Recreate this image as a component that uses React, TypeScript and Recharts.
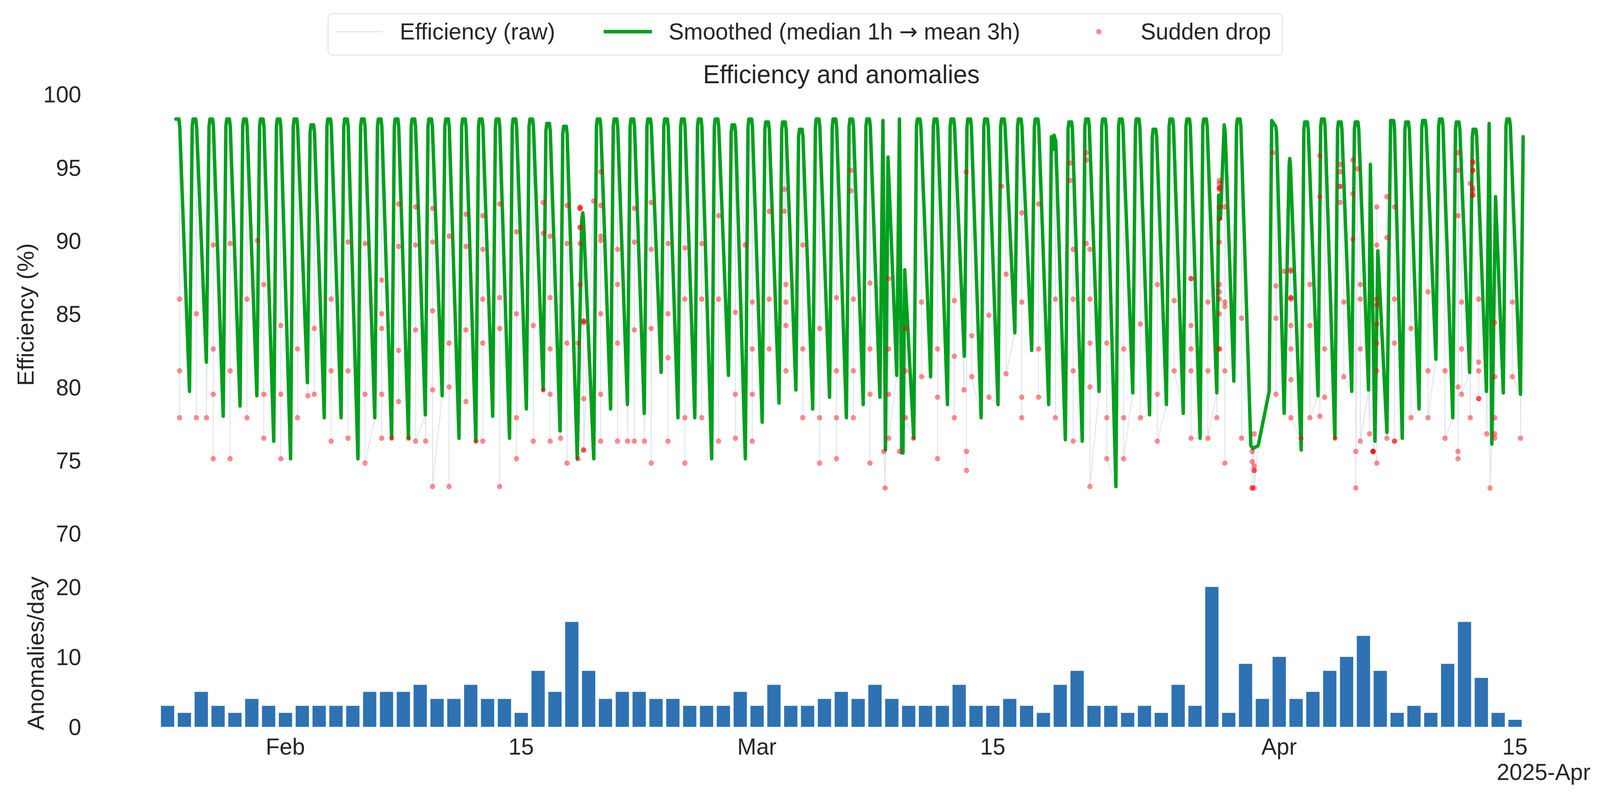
import { Bar, BarChart, ComposedChart, Line, Scatter, XAxis, YAxis } from "recharts"

const FONT = '"Liberation Sans", Arial, Helvetica, sans-serif'
const INK = "#262626"
const W = 4214
const H = 2037

const RAW_COLOR = "#dfe4f2"
const GREEN = "#00a01e"
const DROP_RED = "#ff0000"
const BAR_BLUE = "#2e72b4"

// x = days after 2025-01-25 00:00 (bar k = that calendar day)
const X_DOMAIN: [number, number] = [-1.375, 81.58]
const xTicks = [7, 21, 35, 49, 66, 80]
const xTickLabels = ["Feb", "15", "Mar", "15", "Apr", "15"]
const effTicks = [70, 75, 80, 85, 90, 95, 100]
const countTicks = [0, 10, 20]

// anomalies per day, Jan 25 .. Apr 15
const anomaliesPerDay = [
  3, 2, 5, 3, 2, 4, 3, 2, 3, 3,
  3, 3, 5, 5, 5, 6, 4, 4, 6, 4,
  4, 2, 8, 5, 15, 8, 4, 5, 5, 4,
  4, 3, 3, 3, 5, 3, 6, 3, 3, 4,
  5, 4, 6, 4, 3, 3, 3, 6, 3, 3,
  4, 3, 2, 6, 8, 3, 3, 2, 3, 2,
  6, 3, 20, 2, 9, 4, 10, 4, 5, 8,
  10, 13, 8, 2, 3, 2, 9, 15, 7, 2,
  1,
]

// smoothed curve: daily trough (early morning) and plateau value
const greenMin = [
  0,
  79.7, 81.7, 78.0, 78.7, 79.4, 76.3, 75.1, 80.3, 77.9, 77.9,
  75.1, 77.9, 76.5, 76.5, 78.1, 79.4, 76.5, 76.3, 78.0, 76.5,
  78.5, 79.8, 77.0, 75.1, 75.1, 78.5, 78.8, 78.2, 81.0, 77.9,
  77.9, 75.1, 80.8, 75.1, 77.6, 78.9, 79.8, 78.5, 79.3, 77.9,
  78.8, 79.3, 80.8, 76.5, 80.7, 78.8, 82.1, 77.9, 78.8, 83.7,
  82.5, 78.8, 76.4, 76.3, 79.7, 73.2, 79.6, 78.1, 78.8, 78.2,
  76.5, 79.6, 80.4, 76.0, 79.7, 78.2, 75.7, 79.4, 76.5, 79.7,
  79.8, 76.9, 76.5, 78.5, 81.9, 77.9, 81.0, 79.7, 79.6, 79.5,
]
const greenPeak = [
  98.3,
  98.3, 98.3, 98.3, 98.3, 98.3, 98.3, 98.3, 97.9, 98.3, 98.3,
  98.3, 98.3, 98.3, 98.3, 98.3, 98.3, 98.3, 98.3, 98.3, 98.3,
  98.3, 98.0, 97.8, 91.9, 98.3, 98.3, 98.3, 98.3, 98.3, 98.3,
  98.3, 98.3, 97.9, 98.3, 98.1, 98.1, 97.6, 98.3, 98.3, 98.3,
  98.3, 98.3, 98.3, 98.3, 98.3, 98.3, 98.3, 98.3, 98.3, 98.3,
  98.3, 97.1, 98.1, 98.3, 98.3, 98.3, 98.3, 97.6, 98.3, 98.3,
  98.3, 97.9, 98.3, 98.2, 98.2, 95.6, 98.1, 98.3, 98.1, 98.1,
  95.2, 98.2, 98.1, 98.2, 98.3, 98.1, 97.6, 98.0, 98.3, 97.1,
]
// days whose curve does not follow the usual trough -> plateau shape
const greenOverrides: Record<number, [number, number][]> = {
  0: [[0.5, 98.3], [0.68, 98.3], [0.73, 97.8]],
  24: [[24.33, 75.1], [24.6, 91.4], [24.66, 91.9], [24.7, 91.4]],
  42: [[42.3, 79.3], [42.48, 98.2], [42.63, 75.7], [42.78, 95.7]],
  43: [[43.3, 80.8], [43.46, 98.3], [43.6, 75.5], [43.67, 75.5], [43.77, 88.0]],
  52: [[52.32, 78.8], [52.48, 97.1], [52.56, 96.2], [52.64, 97.2], [52.74, 96.8]],
  62: [[62.3, 79.6], [62.41, 93.1], [62.52, 91.5], [62.74, 97.9], [62.8, 97.4]],
  64: [[64.32, 76.0], [64.45, 75.8], [64.76, 76.0], [65.41, 79.7]],
  65: [[65.56, 98.2], [65.8, 97.8], [65.85, 97.3]],
  66: [[66.3, 78.2], [66.6, 95.2], [66.63, 95.6], [66.67, 95.2]],
  71: [[71.31, 79.8], [71.42, 95.2], [71.69, 76.3], [71.86, 89.3]],
  72: [[72.4, 76.9], [72.62, 98.2], [72.8, 98.2], [72.85, 97.7]],
  78: [[78.31, 79.7], [78.47, 98.0], [78.63, 76.1], [78.85, 93.0]],
  80: [[80.33, 79.5], [80.49, 97.1]],
}

// sudden drops: [time in days, efficiency values at that time]
const drops: [number, number[]][] = [
  [0.72, [86.0, 81.1, 77.9]],
  [1.72, [85.0, 77.9]],
  [2.32, [77.9]], [2.72, [89.7, 82.6, 79.5, 75.1]],
  [3.72, [89.8, 81.1, 75.1]],
  [4.72, [86.0, 77.9]],
  [5.34, [90.0]], [5.72, [87.0, 79.5, 76.5]],
  [6.73, [84.2, 79.5, 75.1]],
  [7.72, [82.6, 77.9]],
  [8.34, [79.4]], [8.72, [84.0, 79.5]],
  [9.72, [86.0, 81.1, 76.3]],
  [10.72, [89.9, 81.1, 76.5]],
  [11.73, [89.8, 79.5, 74.8]],
  [12.72, [87.3, 85.0, 84.0, 79.5, 76.5]],
  [13.31, [76.5]], [13.72, [92.5, 89.6, 82.5, 79.0]],
  [14.31, [76.5]], [14.73, [92.3, 89.7, 83.9, 76.3]],
  [15.33, [76.3]], [15.74, [92.2, 89.9, 85.2, 79.8, 73.2]],
  [16.72, [90.3, 83.0, 80.0, 73.2]],
  [17.72, [91.8, 89.6, 83.9, 79.0]],
  [18.32, [76.3]], [18.72, [91.7, 89.4, 86.0, 83.0, 76.3]],
  [19.72, [92.5, 86.1, 84.0, 73.2]],
  [20.72, [90.6, 85.0, 77.9, 75.1]],
  [21.72, [84.2, 76.3]],
  [22.31, [92.6, 90.5, 79.8]], [22.72, [90.3, 86.1, 82.6, 79.5, 76.3]],
  [23.34, [76.5]], [23.72, [92.4, 89.8, 83.0, 74.8]],
  [24.38, [83.0, 75.1]],
  [24.5, [92.3, 92.2, 92.2, 90.9, 90.9, 89.8, 87.0]],
  [24.71, [84.5, 84.5, 84.4, 79.2, 75.7, 75.7]],
  [25.3, [92.7]], [25.72, [94.7, 92.4, 90.3, 90.0, 85.0, 79.5, 76.3]],
  [26.72, [89.4, 87.0, 83.0, 76.3]],
  [27.32, [76.3]], [27.72, [92.2, 89.9, 83.9, 76.3]],
  [28.32, [76.3]], [28.72, [92.6, 89.4, 84.0, 74.8]],
  [29.72, [89.8, 85.0, 82.0, 76.3]],
  [30.72, [89.5, 86.0, 77.9, 74.8]],
  [31.72, [89.8, 86.0, 77.9]],
  [32.72, [91.7, 86.0, 76.3]],
  [33.72, [85.1, 79.5, 76.5]],
  [34.3, [89.7]], [34.72, [85.8, 82.6, 79.5, 76.3]],
  [35.72, [92.0, 86.0, 82.6]],
  [36.62, [93.5, 92.0]], [36.72, [87.0, 85.8, 84.2, 81.1]],
  [37.72, [89.7, 82.6, 77.9]],
  [38.72, [84.0, 77.9, 74.8]],
  [39.72, [86.1, 81.1, 77.9, 75.1]],
  [40.58, [94.8, 93.4]], [40.72, [86.0, 81.1, 77.9]],
  [41.71, [87.1, 82.6, 79.5, 74.8]],
  [42.53, [75.6]], [42.61, [73.1]], [42.82, [87.4, 82.6, 79.5, 76.5]],
  [43.46, [75.6]], [43.82, [84.0, 81.1, 77.9]],
  [44.29, [76.5]], [44.77, [85.8, 80.7]],
  [45.72, [82.6, 79.3, 75.1]],
  [46.72, [85.9, 82.1, 77.9]],
  [47.29, [79.8]], [47.42, [94.7]], [47.44, [75.6, 74.3]], [47.75, [83.5, 80.7]],
  [48.77, [84.9, 79.3]],
  [49.53, [93.7]], [49.79, [87.7, 80.9]],
  [50.72, [91.9, 85.8, 79.3, 77.9]],
  [51.72, [92.5, 82.6, 79.3]],
  [52.72, [86.0, 77.9]],
  [53.6, [95.3, 94.1]], [53.77, [89.4, 86.0, 81.1, 76.3]],
  [54.55, [96.0, 95.5, 89.8]], [54.77, [89.4, 86.0, 83.0, 80.0, 73.2]],
  [55.77, [83.0, 77.9, 75.1]],
  [56.77, [82.6, 77.9, 75.1]],
  [57.77, [84.3, 77.9]],
  [58.77, [87.0, 79.5, 76.3]],
  [59.77, [85.9, 81.1]],
  [60.77, [87.4, 87.4, 84.2, 82.6, 81.1, 76.5]],
  [61.77, [85.8, 81.1, 76.5]],
  [62.3, [77.9]],
  [62.45, [94.1, 93.9, 93.6, 93.6, 93.5, 92.3, 91.5, 89.9, 87.0, 86.5, 86.0, 85.0, 82.6, 82.6]],
  [62.78, [92.3, 85.8, 85.5, 81.1, 74.8]],
  [63.77, [84.7, 76.5]],
  [64.4, [75.6, 74.9, 73.1, 73.1]], [64.52, [76.8, 74.6, 74.3, 74.3, 73.1]],
  [65.63, [96.0]], [65.81, [86.9, 84.7, 79.5]],
  [66.3, [87.9]], [66.7, [88.0, 87.9, 86.1, 86.1, 86.0, 84.2, 82.6, 80.5, 77.9]],
  [67.3, [76.5]], [67.83, [87.0, 84.2, 77.9]],
  [68.42, [95.8, 93.0, 78.0]], [68.7, [82.6, 79.3]],
  [69.33, [76.5]], [69.62, [95.2, 94.7, 93.7, 93.7, 92.6]], [69.84, [85.8, 80.7]],
  [70.38, [95.5, 93.2, 90.1]], [70.55, [75.6, 73.1]], [70.66, [94.9]], [70.82, [87.0, 86.0, 82.6, 76.3]],
  [71.37, [76.8]], [71.58, [75.6, 75.6, 75.6, 75.6]], [71.8, [92.3, 89.7, 86.0, 85.6, 84.3, 83.0, 81.1, 74.8]],
  [72.4, [93.0, 90.2, 76.5]], [72.85, [92.3, 86.0, 83.0, 76.3, 76.3]],
  [73.83, [84.0, 77.9]],
  [74.84, [86.5, 81.1, 77.9]],
  [75.85, [81.1, 76.5]],
  [76.62, [96.0, 94.8, 91.7, 80.0, 75.6, 75.1]], [76.83, [85.8, 82.6, 79.5]],
  [77.35, [93.9, 77.9]], [77.5, [95.4, 95.3, 94.8, 94.8, 93.6, 93.4, 93.1, 93.1]], [77.85, [86.0, 81.7, 81.1, 79.2, 79.2]],
  [78.33, [76.8]], [78.52, [73.1]], [78.8, [84.4, 80.7, 77.9, 76.8, 76.5]],
  [79.85, [85.8, 80.7]],
  [80.33, [76.5]],
]

type Pt = { t: number; v: number }

function buildGreen(): Pt[] {
  const pts: Pt[] = []
  for (let k = 0; k < greenMin.length; k++) {
    const o = greenOverrides[k]
    if (o) {
      o.forEach(([t, v]) => pts.push({ t, v }))
      continue
    }
    const p = greenPeak[k]
    pts.push({ t: k + 0.31, v: greenMin[k] })
    pts.push({ t: k + 0.47, v: p - 0.5 })
    pts.push({ t: k + 0.52, v: p })
    pts.push({ t: k + 0.68, v: p })
    pts.push({ t: k + 0.73, v: p - 0.5 })
  }
  return pts
}

const greenData = buildGreen()
const dropData: Pt[] = drops.flatMap(([t, vs]) => vs.map((v) => ({ t, v })))
// raw trace passes through the smoothed shape and every drop sample
const rawData: Pt[] = [
  ...greenData,
  ...drops.flatMap(([t, vs]) => [...vs].sort((a, b) => b - a).map((v) => ({ t, v }))),
].sort((a, b) => a.t - b.t)
const barData = anomaliesPerDay.map((n, k) => ({ t: k, n }))

const tickStyle = { fontSize: 60, fill: INK, fontFamily: FONT }

function DropDot(p: { cx?: number; cy?: number }) {
  if (p.cx == null || p.cy == null) return null
  return <circle cx={p.cx} cy={p.cy} r={7} fill={DROP_RED} fillOpacity={0.45} />
}

function Overlay() {
  const txt = (left: number, top: number, size: number, s: React.ReactNode) => (
    <div
      style={{
        position: "absolute",
        left,
        top,
        fontSize: size,
        lineHeight: `${size}px`,
        whiteSpace: "nowrap",
        color: INK,
      }}
    >
      {s}
    </div>
  )
  return (
    <>
      <div
        style={{
          position: "absolute",
          left: 863,
          top: 34,
          width: 2515,
          height: 108,
          border: "2px solid #dcdcdc",
          borderRadius: 10,
          background: "rgba(255,255,255,0.85)",
          boxSizing: "border-box",
        }}
      />
      <svg style={{ position: "absolute", left: 0, top: 0 }} width={W} height={160}>
        <line x1={886} x2={1008} y1={81} y2={81} stroke={RAW_COLOR} strokeWidth={3} />
        <line x1={1590} x2={1717} y1={81} y2={81} stroke={GREEN} strokeWidth={9} />
        <circle cx={2894} cy={81} r={7} fill={DROP_RED} fillOpacity={0.45} />
      </svg>
      {txt(1053, 51, 60, "Efficiency (raw)")}
      {txt(
        1761,
        51,
        60,
        <>
          Smoothed (median 1h{" "}
          <span style={{ fontFamily: '"DejaVu Sans", sans-serif', fontSize: 58 }}>{"\u2192"}</span> mean 3h)
        </>,
      )}
      {txt(3004, 51, 60, "Sudden drop")}
      <div
        style={{
          position: "absolute",
          left: 2216,
          top: 157,
          transform: "translateX(-50%)",
          fontSize: 66,
          lineHeight: "66px",
          whiteSpace: "nowrap",
          color: INK,
        }}
      >
        Efficiency and anomalies
      </div>
      <div
        style={{
          position: "absolute",
          left: 68,
          top: 805,
          transform: "translate(-50%, -50%) rotate(-90deg)",
          fontSize: 60,
          lineHeight: "60px",
          whiteSpace: "nowrap",
          color: INK,
        }}
      >
        Efficiency (%)
      </div>
      <div
        style={{
          position: "absolute",
          left: 95,
          top: 1672,
          transform: "translate(-50%, -50%) rotate(-90deg)",
          fontSize: 60,
          lineHeight: "60px",
          whiteSpace: "nowrap",
          color: INK,
        }}
      >
        Anomalies/day
      </div>
      <div
        style={{
          position: "absolute",
          right: W - 4189,
          top: 1946,
          fontSize: 60,
          lineHeight: "60px",
          whiteSpace: "nowrap",
          color: INK,
        }}
      >
        2025-Apr
      </div>
    </>
  )
}

export default function App() {
  // fit the fixed 4214x2037 layout to whatever CSS viewport the page really has
  const vw = document.documentElement.clientWidth || W
  const vh = document.documentElement.clientHeight || H
  const sx = vw / W
  const sy = vh / H
  return (
    <div
      style={{
        position: "absolute",
        left: 0,
        top: 0,
        width: W,
        height: H,
        background: "#fff",
        fontFamily: FONT,
        overflow: "hidden",
        transformOrigin: "0 0",
        transform: `scale(${sx}, ${sy})`,
      }}
    >
      <div style={{ position: "absolute", left: 0, top: 0 }}>
        <ComposedChart width={W} height={1400} margin={{ top: 241, right: 154, bottom: 35, left: 0 }}>
          <XAxis type="number" dataKey="t" domain={X_DOMAIN} allowDataOverflow hide />
          <YAxis
            type="number"
            dataKey="v"
            domain={[70, 100]}
            ticks={effTicks}
            allowDataOverflow
            width={380}
            tickSize={0}
            tickMargin={166}
            axisLine={false}
            tickLine={false}
            tick={tickStyle}
          />
          <Scatter data={dropData} dataKey="v" shape={<DropDot />} isAnimationActive={false} />
          <Line
            data={rawData}
            dataKey="v"
            type="linear"
            stroke={RAW_COLOR}
            strokeWidth={2.5}
            dot={false}
            activeDot={false}
            isAnimationActive={false}
          />
          <Line
            data={greenData}
            dataKey="v"
            type="linear"
            stroke={GREEN}
            strokeWidth={9}
            strokeLinejoin="round"
            strokeLinecap="round"
            dot={false}
            activeDot={false}
            isAnimationActive={false}
          />
        </ComposedChart>
      </div>
      <div style={{ position: "absolute", left: 0, top: 1400 }}>
        <BarChart width={W} height={637} data={barData} margin={{ top: 84, right: 154, bottom: 0, left: 0 }}>
          <XAxis
            type="number"
            dataKey="t"
            domain={X_DOMAIN}
            allowDataOverflow
            ticks={xTicks}
            tickFormatter={(v: number) => xTickLabels[xTicks.indexOf(v)] ?? ""}
            height={177}
            tickSize={0}
            tickMargin={28}
            axisLine={false}
            tickLine={false}
            tick={tickStyle}
            interval={0}
          />
          <YAxis
            type="number"
            domain={[0, 21]}
            ticks={countTicks}
            allowDataOverflow
            width={380}
            tickSize={0}
            tickMargin={166}
            axisLine={false}
            tickLine={false}
            tick={tickStyle}
          />
          <Bar dataKey="n" fill={BAR_BLUE} barSize={35} isAnimationActive={false} />
        </BarChart>
      </div>
      <Overlay />
    </div>
  )
}
